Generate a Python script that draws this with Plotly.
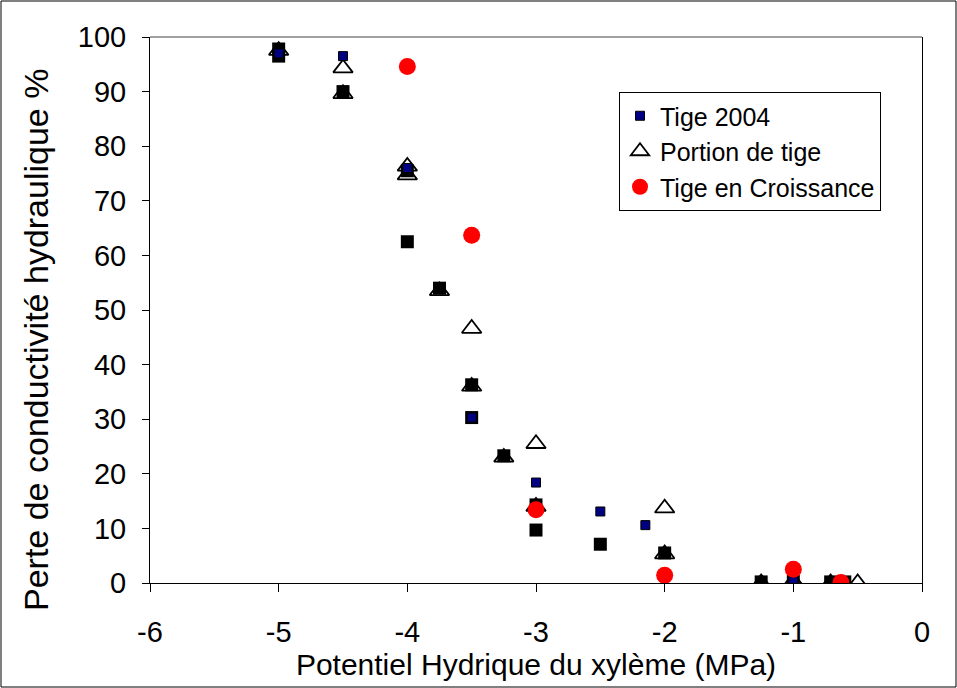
import plotly.graph_objects as go

# Fourth (unlabelled) series: black squares
black_x = [-5, -5, -4.5, -4, -4, -3.75, -3.5, -3.5, -3.25, -3, -3, -2.5, -2, -1.25, -1, -0.71, -0.6]
black_y = [96.5, 97.8, 90, 75.5, 62.5, 54, 36.3, 30.3, 23.3, 14.3, 9.7, 7.1, 5.5, 0.2, 0.3, 0.2, 0.2]

# Tige 2004 (navy squares)
t2004_x = [-5, -4.5, -4, -3.5, -3, -2.5, -2.15, -1]
t2004_y = [97, 96.5, 76, 30.3, 18.4, 13.1, 10.6, 0.3]

# Portion de tige (open triangles)
portion_x = [-5, -4.5, -4.5, -4, -4, -3.75, -3.5, -3.5, -3.25, -3, -3, -2, -2, -1.25, -1, -0.71, -0.5]
portion_y = [97.5, 94.3, 89.6, 76.3, 74.7, 53.5, 46.6, 36, 23, 25.5, 14, 13.7, 5.3, 0, 0.3, 0, 0]

# Tige en Croissance (red circles)
crois_x = [-4, -3.5, -3, -2, -1, -0.63]
crois_y = [94.6, 63.7, 13.4, 1.4, 2.5, 0.1]

x_ticks = [-6, -5, -4, -3, -2, -1, 0]
x_labels = ["-6", "-5", "-4", "-3", "-2", "-1", "0"]
y_ticks = [0, 10, 20, 30, 40, 50, 60, 70, 80, 90, 100]

FONT = "Liberation Sans, Arial, sans-serif"

fig = go.Figure()
fig.add_trace(go.Scatter(x=portion_x, y=portion_y, mode="markers", name="Portion de tige",
                         marker=dict(symbol="triangle-up", size=17, color="white",
                                     line=dict(color="black", width=1.8))))
fig.add_trace(go.Scatter(x=black_x, y=black_y, mode="markers", name="", showlegend=False,
                         marker=dict(symbol="square", size=13, color="black",
                                     line=dict(width=0))))
fig.add_trace(go.Scatter(x=t2004_x, y=t2004_y, mode="markers", name="Tige 2004",
                         marker=dict(symbol="square", size=9, color="#000080",
                                     line=dict(color="black", width=1))))
fig.add_trace(go.Scatter(x=crois_x, y=crois_y, mode="markers", name="Tige en Croissance",
                         marker=dict(symbol="circle", size=17, color="#ff0000",
                                     line=dict(width=0))))

L, R, T, B = 150, 35, 37, 105
W, H = 957, 688
pw, ph = W - L - R, H - T - B

fig.update_layout(
    width=W, height=H,
    margin=dict(l=L, r=R, t=T, b=B, autoexpand=False),
    paper_bgcolor="white", plot_bgcolor="white",
    font=dict(family=FONT, color="black", size=26),
    legend=dict(x=(619 - L) / pw, y=(H - B - 92) / ph, xanchor="left", yanchor="top",
                bordercolor="black", borderwidth=1, bgcolor="white",
                font=dict(size=25), traceorder="normal", itemwidth=30,
                tracegroupgap=0),
    xaxis=dict(range=[-6, 0], tickvals=x_ticks, ticktext=x_labels, ticks="outside", ticklen=8,
               tickwidth=1, tickcolor="black", showline=True, linecolor="black",
               linewidth=1, showgrid=False, zeroline=False, mirror=False,
               tickfont=dict(size=29), ticklabelstandoff=15,
               title=dict(text="Potentiel Hydrique du xylème (MPa)", font=dict(size=30),
                          standoff=2)),
    yaxis=dict(range=[0, 100], tickvals=y_ticks, ticks="outside", ticklen=7,
               tickwidth=1, tickcolor="black", showline=True, linecolor="black",
               linewidth=1, showgrid=False, zeroline=False, mirror=True,
               tickfont=dict(size=29), ticklabelstandoff=10),
    annotations=[
        dict(text="Perte de conductivité hydraulique %", textangle=-90,
             xref="paper", yref="paper", x=(36 - L) / pw, y=(H - B - 340) / ph,
             xanchor="center", yanchor="middle", showarrow=False,
             font=dict(size=34, family=FONT, color="black")),
    ],
    shapes=[
        dict(type="line", xref="paper", yref="paper", x0=0, x1=1, y0=1, y1=1,
             line=dict(color="#808080", width=1.5)),
        dict(type="rect", xref="paper", yref="paper",
             x0=-(L - 1) / pw, x1=1 + (R - 1) / pw,
             y0=-(B - 1) / ph, y1=1 + (T - 1) / ph,
             line=dict(color="black", width=1), fillcolor="rgba(0,0,0,0)"),
    ],
)

# reorder legend: Tige 2004, Portion de tige, Tige en Croissance
fig.data[2].legendrank = 1
fig.data[0].legendrank = 2
fig.data[3].legendrank = 3

fig.write_html("out.html")
